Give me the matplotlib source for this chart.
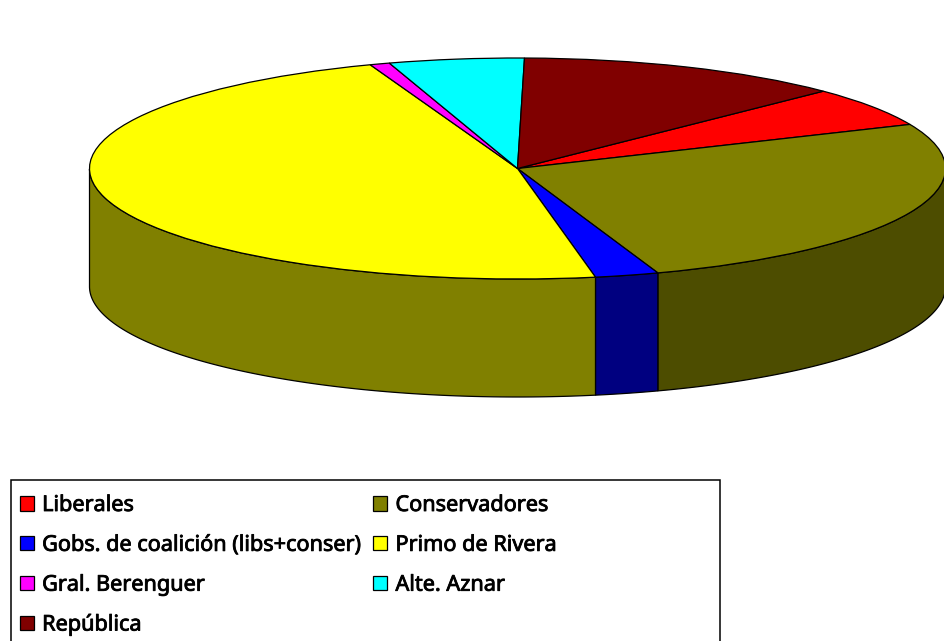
import numpy as np
import matplotlib
matplotlib.use('Agg')
import matplotlib.pyplot as plt
import matplotlib.patheffects as pe
from matplotlib.patches import Rectangle

labels = ['Liberales', 'Conservadores', 'Gobs. de coalición (libs+conser)', 'Primo de Rivera',
          'Gral. Berenguer', 'Alte. Aznar', 'República']
values = [5.8, 26.2, 2.4, 47.3, 0.75, 5.1, 12.4]
colors = ['#ff0000', '#808000', '#0000ff', '#ffff00', '#ff00ff', '#00ffff', '#800000']
side_colors = ['#800000', '#4d4d00', '#000080', '#808000', '#800080', '#008080', '#400000']

W, H = 945, 641
cx, cy, rx, ry = 517.5, 168.5, 428, 110.5
depth = 118 / ry
start = 44.4

plt.rcParams['font.family'] = ['Noto Sans', 'DejaVu Sans']

fig = plt.figure(figsize=(W / 100, H / 100), dpi=100)
ax = fig.add_axes([0, 0, 1, 1])
wedges, _ = ax.pie(values, colors=colors, startangle=start, counterclock=False,
                   wedgeprops={'edgecolor': 'black', 'linewidth': 0.9, 'zorder': 3})
ax.set_aspect('auto')
ax.set_xlim(-cx / rx, (W - cx) / rx)
ax.set_ylim((cy - H) / ry, cy / ry)
ax.axis('off')

# rim of the disc, only the part that faces the viewer
edges = start - 360 * np.cumsum([0] + values) / sum(values)
for a1, a2, c in zip(edges[:-1], edges[1:], side_colors):
    th = np.radians(np.linspace(a2, a1, 200))
    th = th[np.sin(th) <= 0]
    if len(th) == 0:
        continue
    x = np.cos(th)
    y = np.sin(th)
    ax.fill(np.r_[x, x[::-1]], np.r_[y, y[::-1] - depth], facecolor=c,
            edgecolor='black', linewidth=0.9, zorder=2)

fig.add_artist(Rectangle((10.5 / W, -0.02), 709 / W, (H - 479.5) / H + 0.02,
                         transform=fig.transFigure, facecolor='white',
                         edgecolor='black', linewidth=1.1, zorder=-1))

order = [0, 2, 4, 6, 1, 3, 5]
leg = ax.legend([wedges[i] for i in order], [labels[i] for i in order], ncol=2,
                loc='upper left', bbox_to_anchor=(20 / W, 1 - 495 / H),
                bbox_transform=fig.transFigure, frameon=False, borderaxespad=0,
                borderpad=0, fontsize=15.6, handlelength=0.65, handleheight=0.65,
                handletextpad=0.37, labelspacing=0.87, columnspacing=0.52)
for t in leg.get_texts():
    # fake the semi-bold look, the font has only one weight here
    t.set_path_effects([pe.withStroke(linewidth=0.6, foreground='black')])
leg.set_zorder(5)

fig.savefig('out.png', dpi=100)
